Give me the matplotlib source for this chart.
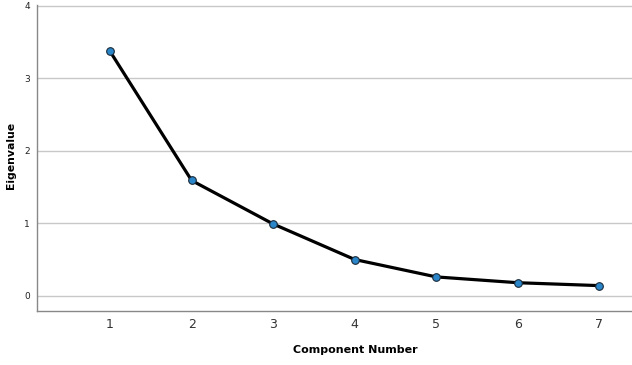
import matplotlib
matplotlib.use("Agg")
import matplotlib.pyplot as plt

components = [1, 2, 3, 4, 5, 6, 7]
eigenvalues = [3.37, 1.59, 0.99, 0.50, 0.26, 0.18, 0.14]
y_ticks = [0, 1, 2, 3, 4]

fig = plt.figure(figsize=(6.32, 3.65), dpi=100)
ax = fig.add_axes([37/632, 54/365, 1 - 37/632, (311-5)/365])

ax.plot(components, eigenvalues, color="black", linewidth=2.3, zorder=3,
        marker="o", markersize=5.5, markerfacecolor="#2a86c8",
        markeredgecolor="#1a2a3a", markeredgewidth=0.8)

ax.set_xlim(0.104, 7.40)
ax.set_ylim(-0.21, 4.01)
ax.set_yticks(y_ticks)
ax.set_xticks(components)
ax.grid(axis="y", color="#c8c8c8", linewidth=1.0)
ax.set_axisbelow(True)
ax.tick_params(length=0)
ax.tick_params(axis="y", labelsize=6.5, pad=5, colors="#222222")
ax.tick_params(axis="x", labelsize=9, pad=5, colors="#333333")
for s in ["top", "right"]:
    ax.spines[s].set_visible(False)
for s in ["left", "bottom"]:
    ax.spines[s].set_color("#888888")
    ax.spines[s].set_linewidth(1.0)

fig.text(355/632, 1 - 350/365, "Component Number", fontsize=8,
         fontweight="bold", ha="center", va="center")
fig.text(11/632, 1 - 155/365, "Eigenvalue", fontsize=7.8,
         fontweight="bold", ha="center", va="center", rotation=90)

fig.savefig("out.png", dpi=100)
